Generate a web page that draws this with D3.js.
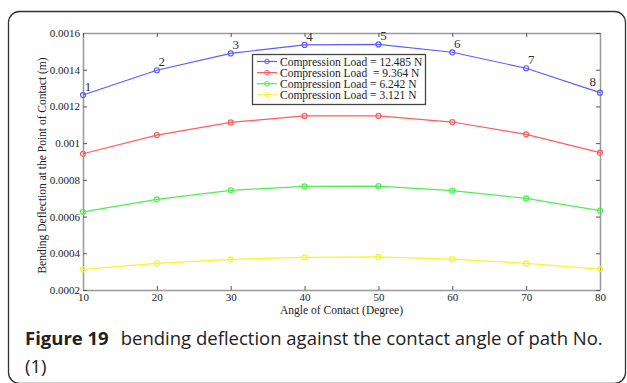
<!DOCTYPE html>
<meta charset="utf-8">
<style>
body { margin: 0; background: #fff; }
svg { display: block; }
.axis text { font: 11px "Liberation Serif", serif; fill: #222; }
.axis path { stroke: #999; stroke-width: 1.5; }
.axis line { stroke: #555; }
.title { font: 11.5px "Liberation Serif", serif; fill: #222; }
.plabel { font: 13px "Liberation Serif", serif; fill: #333; }
.legend text { font: 11.5px "Liberation Serif", serif; fill: #222; white-space: pre; }
.caption { font-family: "Open Sans", sans-serif; font-size: 18.5px; fill: #222; }
</style>
<body>
<script src="https://cdn.jsdelivr.net/npm/d3@7"></script>
<script>

var angles = [10, 20, 30, 40, 50, 60, 70, 80];
var pointLabels = ["1", "2", "3", "4", "5", "6", "7", "8"];
var load12485 = [0.001262, 0.001397, 0.001489, 0.001535, 0.001538, 0.001495, 0.001408, 0.001275];
var load9364 = [0.000942, 0.001044, 0.001113, 0.001148, 0.001148, 0.001115, 0.001048, 0.000948];
var load6242 = [0.000626, 0.000694, 0.000743, 0.000765, 0.000766, 0.000741, 0.000699, 0.000632];
var load3121 = [0.000312, 0.000345, 0.000367, 0.000378, 0.00038, 0.000368, 0.000345, 0.000314];
var seriesNames = ["Compression Load = 12.485 N", "Compression Load  = 9.364 N",
                   "Compression Load = 6.242 N", "Compression Load = 3.121 N"];
var xTicks = [10, 20, 30, 40, 50, 60, 70, 80];
var yTicks = [0.0002, 0.0004, 0.0006, 0.0008, 0.001, 0.0012, 0.0014, 0.0016];

var series = [
  {name: seriesNames[0], values: load12485, color: "#5c5cff"},
  {name: seriesNames[1], values: load9364, color: "#ff5c5c"},
  {name: seriesNames[2], values: load6242, color: "#4cf04c"},
  {name: seriesNames[3], values: load3121, color: "#f5f52a"}
];

var W = 627, H = 383;
var margin = {top: 33, right: 27, bottom: 93, left: 83},
    width = W - margin.left - margin.right,
    height = H - margin.top - margin.bottom;

var svg = d3.select("body").append("svg")
    .attr("width", W)
    .attr("height", H);

// outer frame
svg.append("rect")
    .attr("x", 8.5).attr("y", 11.5)
    .attr("width", 617).attr("height", 372)
    .attr("rx", 11)
    .attr("fill", "none")
    .attr("stroke", "#333")
    .attr("stroke-width", 1.3);

var g = svg.append("g")
    .attr("transform", "translate(" + margin.left + "," + margin.top + ")");

var x = d3.scaleLinear().domain([10, 80]).range([0, width]);
var y = d3.scaleLinear().domain([0.0002, 0.0016]).range([height, 0]);

g.append("g")
    .attr("class", "axis")
    .attr("transform", "translate(0," + height + ")")
    .call(d3.axisBottom(x).tickValues(xTicks).tickSize(-4).tickPadding(3).tickSizeOuter(0));

g.append("g")
    .attr("class", "axis")
    .call(d3.axisLeft(y).tickValues(yTicks).tickSize(-4).tickPadding(3).tickSizeOuter(0)
      .tickFormat(function(d) { return String(+d.toPrecision(2)); }));

g.append("g")
    .attr("class", "axis")
    .call(d3.axisTop(x).tickValues(xTicks).tickSize(-4).tickSizeOuter(0).tickFormat(""));

g.append("g")
    .attr("class", "axis")
    .attr("transform", "translate(" + width + ",0)")
    .call(d3.axisRight(y).tickValues(yTicks).tickSize(-4).tickSizeOuter(0).tickFormat(""));

var line = d3.line()
    .x(function(d, i) { return x(angles[i]); })
    .y(function(d) { return y(d); });

var s = g.selectAll(".series")
    .data(series)
  .enter().append("g")
    .attr("class", "series");

s.append("path")
    .attr("d", function(d) { return line(d.values); })
    .attr("fill", "none")
    .attr("stroke", function(d) { return d.color; })
    .attr("stroke-width", 1.2);

s.selectAll("circle")
    .data(function(d) { return d.values.map(function(v, i) { return {v: v, i: i, color: d.color}; }); })
  .enter().append("circle")
    .attr("cx", function(d) { return x(angles[d.i]); })
    .attr("cy", function(d) { return y(d.v); })
    .attr("r", 2.5)
    .attr("fill", "none")
    .attr("stroke", function(d) { return d.color; })
    .attr("stroke-width", 1.2);

// numbered labels on the top curve (last one sits left of its point)
var last = pointLabels.length - 1;
g.selectAll(".plabel")
    .data(pointLabels)
  .enter().append("text")
    .attr("class", "plabel")
    .attr("text-anchor", function(d, i) { return i === last ? "end" : "middle"; })
    .attr("x", function(d, i) { return x(angles[i]) + (i === last ? -4 : 5); })
    .attr("y", function(d, i) { return y(load12485[i]) - (i === last ? 7 : 4); })
    .text(function(d) { return d; });

// legend
var legend = g.append("g")
    .attr("class", "legend")
    .attr("transform", "translate(169,21)");

legend.append("rect")
    .attr("x", 0.5).attr("y", 0.5)
    .attr("width", 173).attr("height", 50)
    .attr("fill", "#fff")
    .attr("stroke", "#444")
    .attr("stroke-width", 1.3);

var item = legend.selectAll(".item")
    .data(series)
  .enter().append("g")
    .attr("transform", function(d, i) { return "translate(0," + (7.5 + i * 11.1) + ")"; });

item.append("line")
    .attr("x1", 5).attr("x2", 25)
    .attr("stroke", function(d) { return d.color; })
    .attr("stroke-width", 1.2);

item.append("circle")
    .attr("cx", 15).attr("r", 2.3)
    .attr("fill", "none")
    .attr("stroke", function(d) { return d.color; });

item.append("text")
    .attr("x", 28)
    .attr("dy", "0.35em")
    .text(function(d) { return d.name; });

// axis titles
g.append("text")
    .attr("class", "title")
    .attr("x", width / 2)
    .attr("y", height + 24)
    .attr("text-anchor", "middle")
    .text("Angle of Contact (Degree)");

g.append("text")
    .attr("class", "title")
    .attr("transform", "translate(-37," + (height / 2 + 4) + ") rotate(-90)")
    .attr("text-anchor", "middle")
    .text("Bending Deflection at the Point of Contact (m)");

// caption
var cap = svg.append("text")
    .attr("class", "caption")
    .attr("x", 25)
    .attr("y", 345);
cap.append("tspan").attr("font-weight", "bold").text("Figure 19");
cap.append("tspan").attr("dx", 12).text("bending deflection against the contact angle of path No.");

svg.append("text")
    .attr("class", "caption")
    .attr("x", 25)
    .attr("y", 373)
    .text("(1)");

</script>
